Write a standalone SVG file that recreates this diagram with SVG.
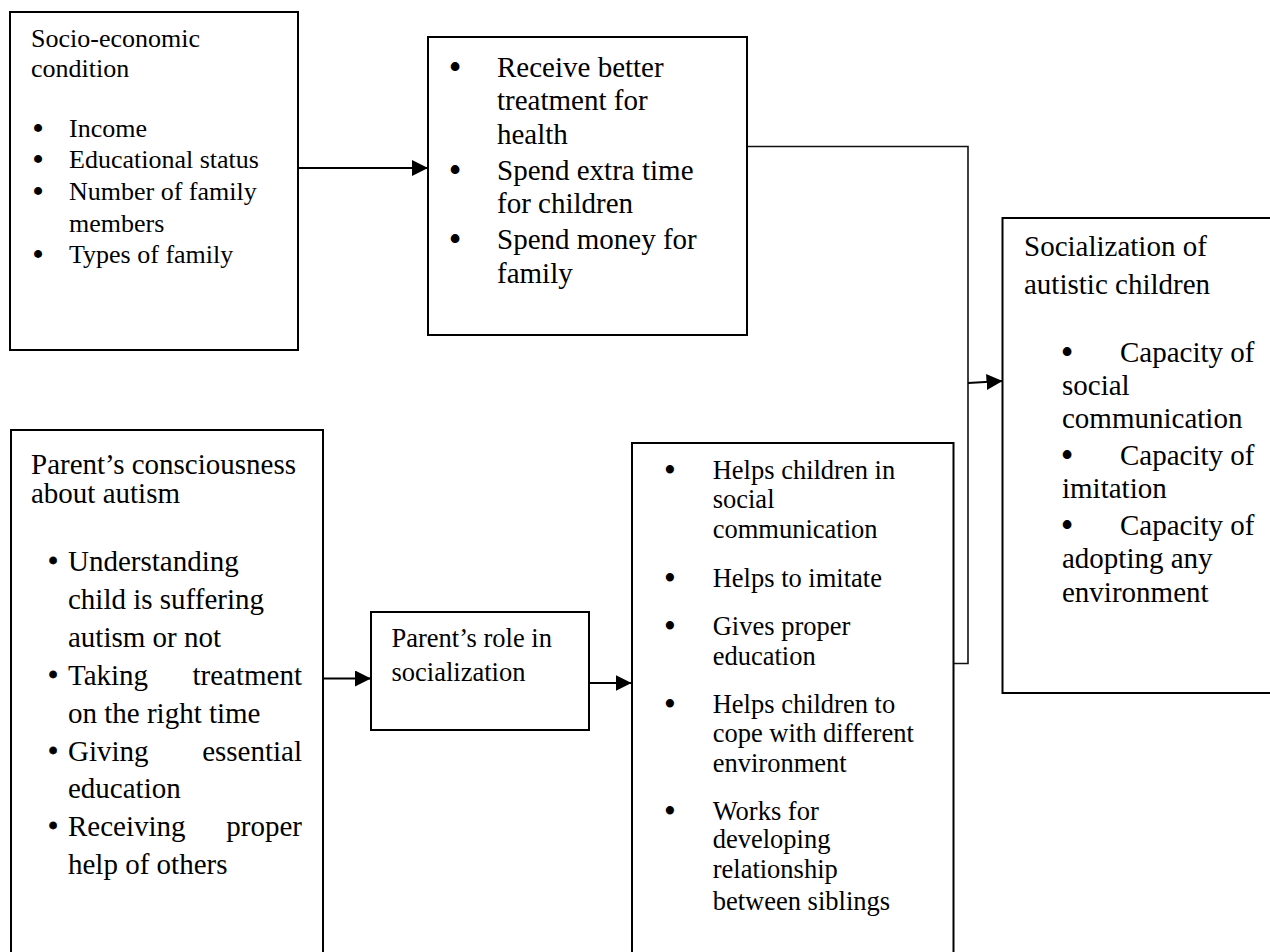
<svg xmlns="http://www.w3.org/2000/svg" width="1270" height="952" viewBox="0 0 1270 952">
<defs>
<marker id="ah" markerUnits="userSpaceOnUse" markerWidth="17" markerHeight="16" refX="16" refY="8" orient="auto">
<path d="M0,0 L16,8 L0,16 Z" fill="#000"/>
</marker>
<style>
.box{fill:#fff;stroke:#000;stroke-width:2}
.f26{font-size:26px}
.f265{font-size:26.5px}
.f29{font-size:29px}
.b{text-anchor:middle;stroke:#000;stroke-width:1.8}
.bs{text-anchor:middle;stroke:#000;stroke-width:0.8}
.e{text-anchor:end}
.conn{fill:none;stroke:#000;stroke-width:2}
.conn2{fill:none;stroke:#111;stroke-width:1.6}
</style>
</defs>
<rect width="1270" height="952" fill="#fff"/>

<g id="connectors">
<line class="conn" x1="298" y1="168" x2="428" y2="168" marker-end="url(#ah)"/>
<path class="conn2" d="M747 146.5 H968 V663.5 H953.5"/>
<line class="conn" x1="968" y1="383" x2="1002.5" y2="381" marker-end="url(#ah)"/>
<line class="conn" x1="323" y1="678.5" x2="371" y2="678.5" marker-end="url(#ah)"/>
<line class="conn" x1="589" y1="683" x2="631.5" y2="683" marker-end="url(#ah)"/>
</g>

<g font-family="'Liberation Serif', 'Times New Roman', 'DejaVu Serif', serif" fill="#000">
<g id="socio-economic">
<rect class="box" x="10" y="12" width="288" height="338"/>
<g class="f26">
<text x="31" y="46.7">Socio-economic</text>
<text x="31" y="77.3">condition</text>
<text class="b" x="38" y="136.7">•</text><text x="69" y="136.7">Income</text>
<text class="b" x="38" y="168.3">•</text><text x="69" y="168.3">Educational status</text>
<text class="b" x="38" y="200">•</text><text x="69" y="200">Number of family</text>
<text x="69" y="231.7">members</text>
<text class="b" x="38" y="263">•</text><text x="69" y="263">Types of family</text>
</g>
</g>

<g id="benefits">
<rect class="box" x="428" y="37" width="319" height="298"/>
<g class="f29">
<text class="b" x="455" y="76.7">•</text><text x="497" y="76.7">Receive better</text>
<text x="497" y="110">treatment for</text>
<text x="497" y="144">health</text>
<text class="b" x="455" y="180">•</text><text x="497" y="180">Spend extra time</text>
<text x="497" y="213">for children</text>
<text class="b" x="455" y="249">•</text><text x="497" y="249">Spend money for</text>
<text x="497" y="283">family</text>
</g>
</g>

<g id="consciousness">
<rect class="box" x="11" y="430" width="312" height="540"/>
<g class="f29">
<text x="31" y="474">Parent’s consciousness</text>
<text x="31" y="503">about autism</text>
<text class="bs" x="53" y="571">•</text><text x="68" y="571">Understanding</text>
<text x="68" y="609">child is suffering</text>
<text x="68" y="647">autism or not</text>
<text class="bs" x="53" y="685">•</text><text x="68" y="685">Taking</text><text class="e" x="302" y="685">treatment</text>
<text x="68" y="722.6">on the right time</text>
<text class="bs" x="53" y="760.5">•</text><text x="68" y="760.5">Giving</text><text class="e" x="302" y="760.5">essential</text>
<text x="68" y="798.4">education</text>
<text class="bs" x="53" y="836.3">•</text><text x="68" y="836.3">Receiving</text><text class="e" x="302" y="836.3">proper</text>
<text x="68" y="874.2">help of others</text>
</g>
</g>

<g id="parents-role">
<rect class="box" x="371" y="612" width="218" height="118"/>
<g class="f265">
<text x="391.5" y="646.7">Parent’s role in</text>
<text x="391.5" y="681">socialization</text>
</g>
</g>

<g id="helps">
<rect class="box" x="632" y="443" width="321.5" height="530"/>
<g class="f265">
<text class="b" x="670" y="479.3">•</text><text x="712.7" y="479.3">Helps children in</text>
<text x="712.7" y="508.3">social</text>
<text x="712.7" y="538.3">communication</text>
<text class="b" x="670" y="586.7">•</text><text x="712.7" y="586.7">Helps to imitate</text>
<text class="b" x="670" y="635">•</text><text x="712.7" y="635">Gives proper</text>
<text x="712.7" y="665">education</text>
<text class="b" x="670" y="713.3">•</text><text x="712.7" y="713.3">Helps children to</text>
<text x="712.7" y="741.7">cope with different</text>
<text x="712.7" y="771.7">environment</text>
<text class="b" x="670" y="820">•</text><text x="712.7" y="820">Works for</text>
<text x="712.7" y="848.3">developing</text>
<text x="712.7" y="878.3">relationship</text>
<text x="712.7" y="910">between siblings</text>
</g>
</g>

<g id="socialization">
<rect class="box" x="1002.5" y="218" width="290" height="475"/>
<g class="f29">
<text x="1024" y="255.5">Socialization of</text>
<text x="1024" y="293.8">autistic children</text>
<text class="b" x="1067" y="361.5">•</text><text x="1120" y="361.5">Capacity of</text>
<text x="1062" y="394.8">social</text>
<text x="1062" y="427.7">communication</text>
<text class="b" x="1067" y="464.9">•</text><text x="1120" y="464.9">Capacity of</text>
<text x="1062" y="498.2">imitation</text>
<text class="b" x="1067" y="534.9">•</text><text x="1120" y="534.9">Capacity of</text>
<text x="1062" y="568.2">adopting any</text>
<text x="1062" y="601.5">environment</text>
</g>
</g>
</g>
</svg>
